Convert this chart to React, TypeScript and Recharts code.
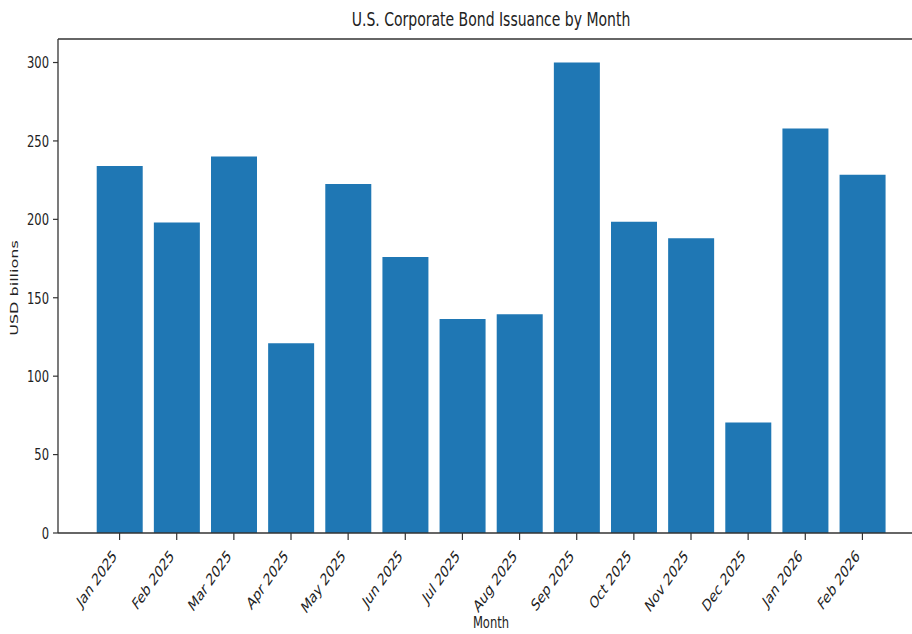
import React from 'react';
import { BarChart, Bar, XAxis, YAxis, ReferenceLine } from 'recharts';

const months = [
  'Jan 2025', 'Feb 2025', 'Mar 2025', 'Apr 2025', 'May 2025', 'Jun 2025', 'Jul 2025',
  'Aug 2025', 'Sep 2025', 'Oct 2025', 'Nov 2025', 'Dec 2025', 'Jan 2026', 'Feb 2026',
];
const issuance = [234, 198, 240, 121, 222.5, 176, 136.5, 139.5, 300, 198.5, 188, 70.5, 258, 228.5];
const yTicks = [0, 50, 100, 150, 200, 250, 300];
const yMax = 315;

const FONT = '"DejaVu Sans", sans-serif';
const SQUISH = 0.7;

const data = months.map((m, i) => ({ month: m, value: issuance[i] }));

// matplotlib-style labels, squeezed sideways like the source image
const XTick = (props: any) => {
  const { x, y, payload } = props;
  return (
    <g transform={`translate(${x - 2},${y + 15}) scale(${SQUISH},1)`}>
      <text transform="rotate(-45)" textAnchor="end" fontSize={16.5} fontFamily={FONT} fill="#222">
        {payload.value}
      </text>
    </g>
  );
};

const YTick = (props: any) => {
  const { x, y, payload } = props;
  return (
    <g transform={`translate(${x},${y}) scale(${SQUISH},1)`}>
      <text textAnchor="end" dy="0.35em" fontSize={16.5} fontFamily={FONT} fill="#222">
        {payload.value}
      </text>
    </g>
  );
};

export default function App() {
  return (
    <div style={{ position: 'absolute', left: 0, top: 0, width: 912, height: 634, overflow: 'hidden', background: '#fff' }}>
      <div
        style={{
          position: 'absolute', left: 0, top: 8, width: 982, textAlign: 'center',
          fontFamily: FONT, fontSize: 20, lineHeight: '23px', color: '#222',
          transform: `scaleX(${SQUISH})`, transformOrigin: '491px 0', whiteSpace: 'nowrap',
        }}
      >
        U.S. Corporate Bond Issuance by Month
      </div>
      <div
        style={{
          position: 'absolute', left: 0, top: 0, fontFamily: FONT, fontSize: 16, lineHeight: '19px',
          color: '#222', whiteSpace: 'nowrap', transformOrigin: '0 0',
          transform: `translate(14px, 288px) scaleX(${SQUISH}) rotate(-90deg) translate(-50%, -50%)`,
        }}
      >
        USD billions
      </div>
      <div
        style={{
          position: 'absolute', left: 0, top: 613, width: 982, textAlign: 'center',
          fontFamily: FONT, fontSize: 16.5, lineHeight: '19px', color: '#222',
          transform: `scaleX(${SQUISH})`, transformOrigin: '491px 0', whiteSpace: 'nowrap',
        }}
      >
        Month
      </div>
      <BarChart
        width={930}
        height={634}
        data={data}
        margin={{ top: 39, right: 6, left: 0, bottom: 0 }}
        barCategoryGap="10%"
      >
        <XAxis
          dataKey="month"
          height={101}
          interval={0}
          padding={{ left: 33, right: 33 }}
          tickSize={7}
          tick={<XTick />}
          axisLine={{ stroke: '#333', strokeWidth: 1.3 }}
          tickLine={{ stroke: '#333', strokeWidth: 1.2 }}
        />
        <YAxis
          width={58}
          domain={[0, yMax]}
          ticks={yTicks}
          tickSize={5}
          tickMargin={4}
          tick={<YTick />}
          axisLine={{ stroke: '#333', strokeWidth: 1.3 }}
          tickLine={{ stroke: '#333', strokeWidth: 1.2 }}
        />
        <ReferenceLine y={yMax} stroke="#333" strokeWidth={1.3} />
        <Bar dataKey="value" fill="#1f77b4" isAnimationActive={false} />
      </BarChart>
    </div>
  );
}
